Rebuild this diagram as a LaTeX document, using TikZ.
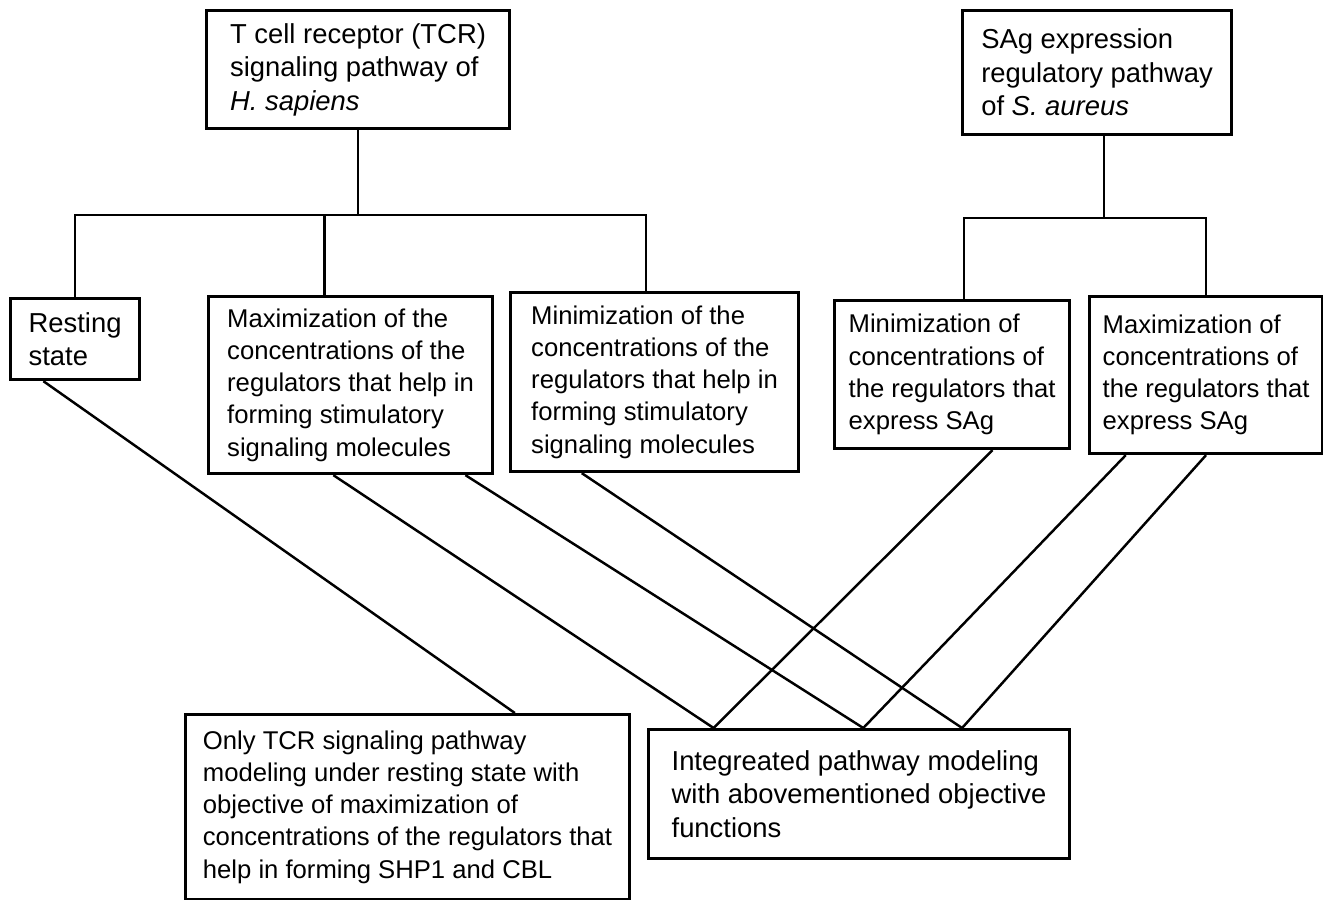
\documentclass[tikz,border=0pt]{standalone}
\usepackage{fontspec}
\setmainfont{Liberation Sans}
\usetikzlibrary{calc}

\tikzset{
  box/.style={draw, line width=1.8pt, align=left, anchor=north west, inner sep=0pt},
  bigtxt/.style={font=\fontsize{15.6}{19}\selectfont},
  smalltxt/.style={font=\fontsize{14.6}{18.3}\selectfont},
  link/.style={line width=1.4pt}
}

\begin{document}
\begin{tikzpicture}[x=0.02cm,y=-0.02cm]
\useasboundingbox (0,0) rectangle (1323,900);
% the two pathways
\node[box,bigtxt,minimum width=6.06cm,minimum height=2.36cm] (tcr) at (205,9)
  {T cell receptor (TCR)\\ signaling pathway of\\ \textit{H. sapiens}};
\node[box,bigtxt,minimum width=5.38cm,minimum height=2.48cm] (sag) at (961,9)
  {SAg expression\\ regulatory pathway\\ of \textit{S. aureus}};
% objectives
\node[box,bigtxt,minimum width=2.58cm,minimum height=1.62cm] (rest) at (9,297)
  {Resting\\ state};
\node[box,smalltxt,minimum width=5.68cm,minimum height=3.54cm] (maxtcr) at (207,295)
  {Maximization of the\\ concentrations of the\\ regulators that help in\\ forming stimulatory\\ signaling molecules};
\node[box,smalltxt,minimum width=5.76cm,minimum height=3.58cm] (mintcr) at (509,291)
  {Minimization of the\\ concentrations of the\\ regulators that help in\\ forming stimulatory\\ signaling molecules};
\node[box,smalltxt,minimum width=4.70cm,minimum height=2.96cm] (minsag) at (833,299)
  {Minimization of\\ concentrations of\\ the regulators that\\ express SAg};
\node[box,smalltxt,minimum width=4.66cm,minimum height=3.14cm] (maxsag) at (1088,295)
  {Maximization of\\ concentrations of\\ the regulators that\\ express SAg};
% models
\node[box,smalltxt,minimum width=8.88cm,minimum height=3.70cm] (only) at (184,713)
  {Only TCR signaling pathway\\ modeling under resting state with\\ objective of maximization of\\ concentrations of the regulators that\\ help in forming SHP1 and CBL};
\node[box,bigtxt,minimum width=8.42cm,minimum height=2.58cm] (integ) at (647,728)
  {Integreated pathway modeling\\ with abovementioned objective\\ functions};

% trees
\coordinate (sagout) at ($(sag.south west)!.525!(sag.south east)$);
\path (tcr.south) ++(0,85) coordinate (tcrfork);
\path (sagout) ++(0,82) coordinate (sagfork);
\draw[link] (tcr.south) -- (tcrfork);
\draw[link] (rest.north) |- (tcrfork);
\draw[link] ($(maxtcr.north west)!.41!(maxtcr.north east)$) |- (tcrfork);
\draw[link] ($(mintcr.north west)!.47!(mintcr.north east)$) |- (tcrfork);
\draw[link] (sagout) -- (sagfork);
\draw[link] ($(minsag.north west)!.55!(minsag.north east)$) |- (sagfork);
\draw[link] (maxsag.north) |- (sagfork);

% to the models
\draw[link] ($(rest.south west)!.26!(rest.south east)$) -- ($(only.north west)!.74!(only.north east)$);
\draw[link] ($(maxtcr.south west)!.44!(maxtcr.south east)$) -- ($(integ.north west)!.157!(integ.north east)$);
\draw[link] ($(maxtcr.south west)!.90!(maxtcr.south east)$) -- ($(integ.north west)!.51!(integ.north east)$);
\draw[link] ($(mintcr.south west)!.25!(mintcr.south east)$) -- ($(integ.north west)!.743!(integ.north east)$);
\draw[link] ($(minsag.south west)!.67!(minsag.south east)$) -- ($(integ.north west)!.157!(integ.north east)$);
\draw[link] ($(maxsag.south west)!.16!(maxsag.south east)$) -- ($(integ.north west)!.51!(integ.north east)$);
\draw[link] ($(maxsag.south west)!.50!(maxsag.south east)$) -- ($(integ.north west)!.743!(integ.north east)$);
\end{tikzpicture}
\end{document}
